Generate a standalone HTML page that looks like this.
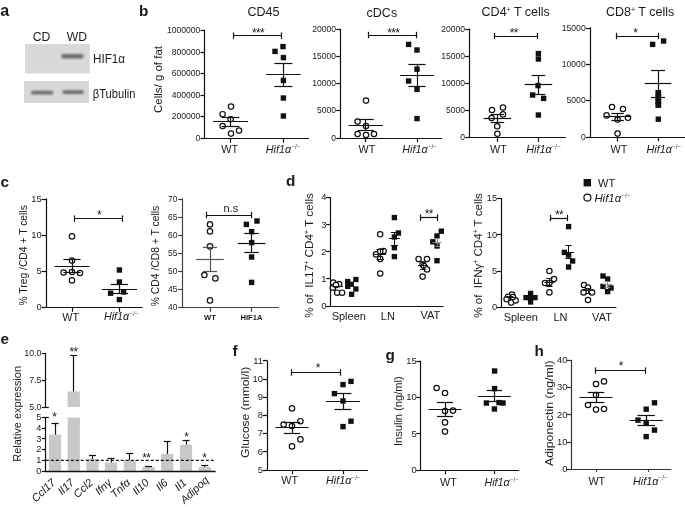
<!DOCTYPE html>
<html><head><meta charset="utf-8"><style>
html,body{margin:0;padding:0;background:#fff;width:685px;height:507px;overflow:hidden}
svg{display:block;will-change:transform}
text{font-family:"Liberation Sans",sans-serif}
</style></head><body>
<svg width="685" height="507" viewBox="0 0 685 507">
<defs><filter id="blur1" x="-50%" y="-200%" width="200%" height="500%"><feGaussianBlur stdDeviation="1.1"/></filter></defs>
<rect width="685" height="507" fill="#fff"/>
<text x="0.20" y="16.00" font-size="16" text-anchor="start" font-weight="bold" font-style="normal" fill="#1a1a1a" >a</text>
<text x="41.50" y="40.60" font-size="12.2" text-anchor="middle" font-weight="normal" font-style="normal" fill="#1a1a1a" >CD</text>
<text x="77.00" y="40.60" font-size="12.2" text-anchor="middle" font-weight="normal" font-style="normal" fill="#1a1a1a" >WD</text>
<rect x="25" y="44" width="64.8" height="29.5" fill="#d9d9d9"/>
<rect x="24" y="81" width="65" height="22" fill="#d8d8d8"/>
<rect x="61.2" y="54.0" width="22.4" height="4.4" rx="2" fill="#6c6c6c" filter="url(#blur1)"/>
<rect x="31" y="55" width="22" height="2" rx="1" fill="#d4d4d4" filter="url(#blur1)"/>
<rect x="31" y="90.8" width="22.4" height="3.8" rx="1.9" fill="#6c6c6c" filter="url(#blur1)"/>
<rect x="62.4" y="90.2" width="21.6" height="3.8" rx="1.9" fill="#6c6c6c" filter="url(#blur1)"/>
<text x="93.00" y="63.40" font-size="12.2" text-anchor="start" font-weight="normal" font-style="normal" fill="#1a1a1a" textLength="32" lengthAdjust="spacingAndGlyphs">HIF1α</text>
<text x="92.80" y="97.90" font-size="12.2" text-anchor="start" font-weight="normal" font-style="normal" fill="#1a1a1a" textLength="42.6" lengthAdjust="spacingAndGlyphs">βTubulin</text>
<text x="138.90" y="15.60" font-size="15.3" text-anchor="start" font-weight="bold" font-style="normal" fill="#1a1a1a" >b</text>
<text x="247.40" y="16.10" font-size="12.5" text-anchor="start" font-weight="normal" font-style="normal" fill="#1a1a1a" >CD45</text>
<line x1="204.50" y1="138.40" x2="204.50" y2="29.80" stroke="#111" stroke-width="1.2" />
<line x1="200.50" y1="138.50" x2="204.70" y2="138.50" stroke="#111" stroke-width="1.2" />
<text x="200.40" y="140.98" font-size="8.6" text-anchor="end" font-weight="normal" font-style="normal" fill="#1a1a1a" >0</text>
<line x1="200.50" y1="116.50" x2="204.70" y2="116.50" stroke="#111" stroke-width="1.2" />
<text x="200.40" y="119.38" font-size="8.6" text-anchor="end" font-weight="normal" font-style="normal" fill="#1a1a1a" >200000</text>
<line x1="200.50" y1="95.50" x2="204.70" y2="95.50" stroke="#111" stroke-width="1.2" />
<text x="200.40" y="97.78" font-size="8.6" text-anchor="end" font-weight="normal" font-style="normal" fill="#1a1a1a" >400000</text>
<line x1="200.50" y1="73.50" x2="204.70" y2="73.50" stroke="#111" stroke-width="1.2" />
<text x="200.40" y="76.18" font-size="8.6" text-anchor="end" font-weight="normal" font-style="normal" fill="#1a1a1a" >600000</text>
<line x1="200.50" y1="52.50" x2="204.70" y2="52.50" stroke="#111" stroke-width="1.2" />
<text x="200.40" y="54.58" font-size="8.6" text-anchor="end" font-weight="normal" font-style="normal" fill="#1a1a1a" >800000</text>
<line x1="200.50" y1="30.50" x2="204.70" y2="30.50" stroke="#111" stroke-width="1.2" />
<text x="200.40" y="32.98" font-size="8.6" text-anchor="end" font-weight="normal" font-style="normal" fill="#1a1a1a" >1000000</text>
<line x1="204.10" y1="138.50" x2="309.00" y2="138.50" stroke="#111" stroke-width="1.2" />
<line x1="230.50" y1="138.40" x2="230.50" y2="142.60" stroke="#111" stroke-width="1.2" />
<line x1="283.50" y1="138.40" x2="283.50" y2="142.60" stroke="#111" stroke-width="1.2" />
<text transform="translate(161.72,79.50) rotate(-90)" x="0" y="0" font-size="11.4" text-anchor="middle" textLength="67.0" lengthAdjust="spacingAndGlyphs" fill="#1a1a1a" >Cells/ g of fat</text>
<text x="229.60" y="153.00" font-size="10.8" text-anchor="middle" font-weight="normal" font-style="normal" fill="#1a1a1a" >WT</text>
<text x="265.80" y="153.00" font-size="10.8" text-anchor="start" font-weight="normal" font-style="italic" fill="#1a1a1a" >Hif1α<tspan font-size="6.5" dy="-4.2" font-style="normal" fill="#555">−/−</tspan></text>
<line x1="233.00" y1="35.50" x2="281.00" y2="35.50" stroke="#111" stroke-width="1.2" />
<line x1="233.50" y1="32.40" x2="233.50" y2="38.80" stroke="#111" stroke-width="1.2" />
<line x1="281.50" y1="32.40" x2="281.50" y2="38.80" stroke="#111" stroke-width="1.2" />
<text x="254.40" y="37.24" font-size="12" text-anchor="middle" fill="#1a1a1a">*</text>
<text x="258.40" y="37.24" font-size="12" text-anchor="middle" fill="#1a1a1a">*</text>
<text x="262.40" y="37.24" font-size="12" text-anchor="middle" fill="#1a1a1a">*</text>
<circle cx="231.00" cy="106.60" r="2.7" fill="#fff" stroke="#111" stroke-width="1.2"/>
<circle cx="222.60" cy="114.20" r="2.7" fill="#fff" stroke="#111" stroke-width="1.2"/>
<circle cx="230.60" cy="119.20" r="2.7" fill="#fff" stroke="#111" stroke-width="1.2"/>
<circle cx="222.60" cy="126.00" r="2.7" fill="#fff" stroke="#111" stroke-width="1.2"/>
<circle cx="239.00" cy="130.60" r="2.7" fill="#fff" stroke="#111" stroke-width="1.2"/>
<circle cx="231.00" cy="133.60" r="2.7" fill="#fff" stroke="#111" stroke-width="1.2"/>
<line x1="213.10" y1="121.50" x2="248.10" y2="121.50" stroke="#111" stroke-width="1.2" />
<line x1="230.50" y1="117.20" x2="230.50" y2="126.00" stroke="#111" stroke-width="1.2" />
<line x1="221.80" y1="117.50" x2="239.40" y2="117.50" stroke="#111" stroke-width="1.2" />
<line x1="221.80" y1="126.50" x2="239.40" y2="126.50" stroke="#111" stroke-width="1.2" />
<rect x="280.30" y="43.90" width="5.4" height="5.4" fill="#111"/>
<rect x="272.30" y="48.70" width="5.4" height="5.4" fill="#111"/>
<rect x="280.70" y="54.90" width="5.4" height="5.4" fill="#111"/>
<rect x="280.70" y="77.70" width="5.4" height="5.4" fill="#111"/>
<rect x="280.70" y="95.30" width="5.4" height="5.4" fill="#111"/>
<rect x="280.70" y="113.30" width="5.4" height="5.4" fill="#111"/>
<line x1="266.20" y1="74.50" x2="300.60" y2="74.50" stroke="#111" stroke-width="1.2" />
<line x1="283.50" y1="63.40" x2="283.50" y2="86.20" stroke="#111" stroke-width="1.2" />
<line x1="274.40" y1="63.50" x2="292.40" y2="63.50" stroke="#111" stroke-width="1.2" />
<line x1="274.40" y1="86.50" x2="292.40" y2="86.50" stroke="#111" stroke-width="1.2" />
<text x="366.60" y="17.40" font-size="12.5" text-anchor="start" font-weight="normal" font-style="normal" fill="#1a1a1a" >cDCs</text>
<line x1="340.50" y1="138.00" x2="340.50" y2="28.80" stroke="#111" stroke-width="1.2" />
<line x1="336.20" y1="138.50" x2="340.40" y2="138.50" stroke="#111" stroke-width="1.2" />
<text x="336.10" y="140.58" font-size="8.6" text-anchor="end" font-weight="normal" font-style="normal" fill="#1a1a1a" >0</text>
<line x1="336.20" y1="110.50" x2="340.40" y2="110.50" stroke="#111" stroke-width="1.2" />
<text x="336.10" y="113.43" font-size="8.6" text-anchor="end" font-weight="normal" font-style="normal" fill="#1a1a1a" >5000</text>
<line x1="336.20" y1="83.50" x2="340.40" y2="83.50" stroke="#111" stroke-width="1.2" />
<text x="336.10" y="86.28" font-size="8.6" text-anchor="end" font-weight="normal" font-style="normal" fill="#1a1a1a" >10000</text>
<line x1="336.20" y1="56.50" x2="340.40" y2="56.50" stroke="#111" stroke-width="1.2" />
<text x="336.10" y="59.13" font-size="8.6" text-anchor="end" font-weight="normal" font-style="normal" fill="#1a1a1a" >15000</text>
<line x1="336.20" y1="29.50" x2="340.40" y2="29.50" stroke="#111" stroke-width="1.2" />
<text x="336.10" y="31.98" font-size="8.6" text-anchor="end" font-weight="normal" font-style="normal" fill="#1a1a1a" >20000</text>
<line x1="339.80" y1="138.50" x2="442.00" y2="138.50" stroke="#111" stroke-width="1.2" />
<line x1="365.50" y1="138.00" x2="365.50" y2="142.20" stroke="#111" stroke-width="1.2" />
<line x1="417.50" y1="138.00" x2="417.50" y2="142.20" stroke="#111" stroke-width="1.2" />
<text x="367.00" y="153.00" font-size="10.8" text-anchor="middle" font-weight="normal" font-style="normal" fill="#1a1a1a" >WT</text>
<text x="402.30" y="153.00" font-size="10.8" text-anchor="start" font-weight="normal" font-style="italic" fill="#1a1a1a" >Hif1α<tspan font-size="6.5" dy="-4.2" font-style="normal" fill="#555">−/−</tspan></text>
<line x1="368.60" y1="35.50" x2="416.00" y2="35.50" stroke="#111" stroke-width="1.2" />
<line x1="368.50" y1="31.80" x2="368.50" y2="38.20" stroke="#111" stroke-width="1.2" />
<line x1="416.50" y1="31.80" x2="416.50" y2="38.20" stroke="#111" stroke-width="1.2" />
<text x="389.60" y="37.24" font-size="12" text-anchor="middle" fill="#1a1a1a">*</text>
<text x="393.60" y="37.24" font-size="12" text-anchor="middle" fill="#1a1a1a">*</text>
<text x="397.60" y="37.24" font-size="12" text-anchor="middle" fill="#1a1a1a">*</text>
<circle cx="366.00" cy="100.60" r="2.7" fill="#fff" stroke="#111" stroke-width="1.2"/>
<circle cx="357.60" cy="121.60" r="2.7" fill="#fff" stroke="#111" stroke-width="1.2"/>
<circle cx="366.00" cy="126.00" r="2.7" fill="#fff" stroke="#111" stroke-width="1.2"/>
<circle cx="357.60" cy="134.00" r="2.7" fill="#fff" stroke="#111" stroke-width="1.2"/>
<circle cx="366.00" cy="135.00" r="2.7" fill="#fff" stroke="#111" stroke-width="1.2"/>
<circle cx="374.00" cy="134.00" r="2.7" fill="#fff" stroke="#111" stroke-width="1.2"/>
<line x1="348.50" y1="125.50" x2="382.90" y2="125.50" stroke="#111" stroke-width="1.2" />
<line x1="365.50" y1="119.60" x2="365.50" y2="130.50" stroke="#111" stroke-width="1.2" />
<line x1="357.70" y1="119.50" x2="373.70" y2="119.50" stroke="#111" stroke-width="1.2" />
<line x1="357.70" y1="130.50" x2="373.70" y2="130.50" stroke="#111" stroke-width="1.2" />
<rect x="405.90" y="41.70" width="5.4" height="5.4" fill="#111"/>
<rect x="414.30" y="47.30" width="5.4" height="5.4" fill="#111"/>
<rect x="414.30" y="66.50" width="5.4" height="5.4" fill="#111"/>
<rect x="405.90" y="78.30" width="5.4" height="5.4" fill="#111"/>
<rect x="414.30" y="86.70" width="5.4" height="5.4" fill="#111"/>
<rect x="414.30" y="115.90" width="5.4" height="5.4" fill="#111"/>
<line x1="400.00" y1="75.50" x2="434.00" y2="75.50" stroke="#111" stroke-width="1.2" />
<line x1="417.50" y1="64.20" x2="417.50" y2="86.00" stroke="#111" stroke-width="1.2" />
<line x1="408.40" y1="64.50" x2="425.60" y2="64.50" stroke="#111" stroke-width="1.2" />
<line x1="408.40" y1="86.50" x2="425.60" y2="86.50" stroke="#111" stroke-width="1.2" />
<text x="481.60" y="16.00" font-size="12.5" text-anchor="start" font-weight="normal" font-style="normal" fill="#1a1a1a" >CD4<tspan font-size="7" dy="-4.5">+</tspan><tspan dy="4.5"> T cells</tspan></text>
<line x1="469.50" y1="137.60" x2="469.50" y2="28.60" stroke="#111" stroke-width="1.2" />
<line x1="465.20" y1="137.50" x2="469.40" y2="137.50" stroke="#111" stroke-width="1.2" />
<text x="465.10" y="140.18" font-size="8.6" text-anchor="end" font-weight="normal" font-style="normal" fill="#1a1a1a" >0</text>
<line x1="465.20" y1="110.50" x2="469.40" y2="110.50" stroke="#111" stroke-width="1.2" />
<text x="465.10" y="113.08" font-size="8.6" text-anchor="end" font-weight="normal" font-style="normal" fill="#1a1a1a" >5000</text>
<line x1="465.20" y1="83.50" x2="469.40" y2="83.50" stroke="#111" stroke-width="1.2" />
<text x="465.10" y="85.98" font-size="8.6" text-anchor="end" font-weight="normal" font-style="normal" fill="#1a1a1a" >10000</text>
<line x1="465.20" y1="56.50" x2="469.40" y2="56.50" stroke="#111" stroke-width="1.2" />
<text x="465.10" y="58.88" font-size="8.6" text-anchor="end" font-weight="normal" font-style="normal" fill="#1a1a1a" >15000</text>
<line x1="465.20" y1="29.50" x2="469.40" y2="29.50" stroke="#111" stroke-width="1.2" />
<text x="465.10" y="31.78" font-size="8.6" text-anchor="end" font-weight="normal" font-style="normal" fill="#1a1a1a" >20000</text>
<line x1="468.80" y1="137.50" x2="565.90" y2="137.50" stroke="#111" stroke-width="1.2" />
<line x1="497.50" y1="137.60" x2="497.50" y2="141.80" stroke="#111" stroke-width="1.2" />
<line x1="538.50" y1="137.60" x2="538.50" y2="141.80" stroke="#111" stroke-width="1.2" />
<text x="498.50" y="153.00" font-size="10.8" text-anchor="middle" font-weight="normal" font-style="normal" fill="#1a1a1a" >WT</text>
<text x="526.20" y="153.00" font-size="10.8" text-anchor="start" font-weight="normal" font-style="italic" fill="#1a1a1a" >Hif1α<tspan font-size="6.5" dy="-4.2" font-style="normal" fill="#555">−/−</tspan></text>
<line x1="494.40" y1="36.50" x2="537.00" y2="36.50" stroke="#111" stroke-width="1.2" />
<line x1="494.50" y1="32.80" x2="494.50" y2="39.20" stroke="#111" stroke-width="1.2" />
<line x1="537.50" y1="32.80" x2="537.50" y2="39.20" stroke="#111" stroke-width="1.2" />
<text x="512.00" y="37.24" font-size="12" text-anchor="middle" fill="#1a1a1a">*</text>
<text x="516.00" y="37.24" font-size="12" text-anchor="middle" fill="#1a1a1a">*</text>
<circle cx="492.00" cy="110.00" r="2.7" fill="#fff" stroke="#111" stroke-width="1.2"/>
<circle cx="503.00" cy="107.60" r="2.7" fill="#fff" stroke="#111" stroke-width="1.2"/>
<circle cx="491.60" cy="118.00" r="2.7" fill="#fff" stroke="#111" stroke-width="1.2"/>
<circle cx="503.00" cy="114.40" r="2.7" fill="#fff" stroke="#111" stroke-width="1.2"/>
<circle cx="497.20" cy="126.30" r="2.7" fill="#fff" stroke="#111" stroke-width="1.2"/>
<circle cx="497.40" cy="133.80" r="2.7" fill="#fff" stroke="#111" stroke-width="1.2"/>
<line x1="483.70" y1="118.50" x2="511.10" y2="118.50" stroke="#111" stroke-width="1.2" />
<line x1="497.50" y1="114.00" x2="497.50" y2="122.40" stroke="#111" stroke-width="1.2" />
<line x1="490.60" y1="114.50" x2="504.20" y2="114.50" stroke="#111" stroke-width="1.2" />
<line x1="490.60" y1="122.50" x2="504.20" y2="122.50" stroke="#111" stroke-width="1.2" />
<rect x="535.70" y="50.90" width="5.4" height="5.4" fill="#111"/>
<rect x="535.70" y="56.30" width="5.4" height="5.4" fill="#111"/>
<rect x="535.30" y="82.90" width="5.4" height="5.4" fill="#111"/>
<rect x="529.90" y="92.30" width="5.4" height="5.4" fill="#111"/>
<rect x="540.90" y="95.70" width="5.4" height="5.4" fill="#111"/>
<rect x="535.70" y="112.30" width="5.4" height="5.4" fill="#111"/>
<line x1="524.60" y1="84.50" x2="552.20" y2="84.50" stroke="#111" stroke-width="1.2" />
<line x1="538.50" y1="75.00" x2="538.50" y2="94.00" stroke="#111" stroke-width="1.2" />
<line x1="531.60" y1="75.50" x2="545.20" y2="75.50" stroke="#111" stroke-width="1.2" />
<line x1="531.60" y1="94.50" x2="545.20" y2="94.50" stroke="#111" stroke-width="1.2" />
<text x="606.00" y="16.00" font-size="12.5" text-anchor="start" font-weight="normal" font-style="normal" fill="#1a1a1a" >CD8<tspan font-size="7" dy="-4.5">+</tspan><tspan dy="4.5"> T cells</tspan></text>
<line x1="590.50" y1="137.00" x2="590.50" y2="27.41" stroke="#111" stroke-width="1.2" />
<line x1="585.80" y1="137.50" x2="590.00" y2="137.50" stroke="#111" stroke-width="1.2" />
<text x="585.70" y="139.58" font-size="8.6" text-anchor="end" font-weight="normal" font-style="normal" fill="#1a1a1a" >0</text>
<line x1="585.80" y1="100.50" x2="590.00" y2="100.50" stroke="#111" stroke-width="1.2" />
<text x="585.70" y="103.25" font-size="8.6" text-anchor="end" font-weight="normal" font-style="normal" fill="#1a1a1a" >5000</text>
<line x1="585.80" y1="64.50" x2="590.00" y2="64.50" stroke="#111" stroke-width="1.2" />
<text x="585.70" y="66.92" font-size="8.6" text-anchor="end" font-weight="normal" font-style="normal" fill="#1a1a1a" >10000</text>
<line x1="585.80" y1="28.50" x2="590.00" y2="28.50" stroke="#111" stroke-width="1.2" />
<text x="585.70" y="30.59" font-size="8.6" text-anchor="end" font-weight="normal" font-style="normal" fill="#1a1a1a" >15000</text>
<line x1="589.40" y1="137.50" x2="686.00" y2="137.50" stroke="#111" stroke-width="1.2" />
<line x1="617.50" y1="137.00" x2="617.50" y2="141.20" stroke="#111" stroke-width="1.2" />
<line x1="658.50" y1="137.00" x2="658.50" y2="141.20" stroke="#111" stroke-width="1.2" />
<text x="618.90" y="153.00" font-size="10.8" text-anchor="middle" font-weight="normal" font-style="normal" fill="#1a1a1a" >WT</text>
<text x="646.50" y="153.00" font-size="10.8" text-anchor="start" font-weight="normal" font-style="italic" fill="#1a1a1a" >Hif1α<tspan font-size="6.5" dy="-4.2" font-style="normal" fill="#555">−/−</tspan></text>
<line x1="616.00" y1="36.50" x2="658.00" y2="36.50" stroke="#111" stroke-width="1.2" />
<line x1="616.50" y1="32.80" x2="616.50" y2="39.20" stroke="#111" stroke-width="1.2" />
<line x1="658.50" y1="32.80" x2="658.50" y2="39.20" stroke="#111" stroke-width="1.2" />
<text x="635.70" y="37.24" font-size="12" text-anchor="middle" fill="#1a1a1a">*</text>
<circle cx="612.00" cy="107.00" r="2.7" fill="#fff" stroke="#111" stroke-width="1.2"/>
<circle cx="623.00" cy="109.00" r="2.7" fill="#fff" stroke="#111" stroke-width="1.2"/>
<circle cx="606.60" cy="115.40" r="2.7" fill="#fff" stroke="#111" stroke-width="1.2"/>
<circle cx="628.00" cy="117.80" r="2.7" fill="#fff" stroke="#111" stroke-width="1.2"/>
<circle cx="617.60" cy="119.60" r="2.7" fill="#fff" stroke="#111" stroke-width="1.2"/>
<circle cx="617.60" cy="133.60" r="2.7" fill="#fff" stroke="#111" stroke-width="1.2"/>
<line x1="604.40" y1="116.50" x2="630.80" y2="116.50" stroke="#111" stroke-width="1.2" />
<line x1="617.50" y1="113.20" x2="617.50" y2="120.60" stroke="#111" stroke-width="1.2" />
<line x1="611.40" y1="113.50" x2="623.80" y2="113.50" stroke="#111" stroke-width="1.2" />
<line x1="611.40" y1="120.50" x2="623.80" y2="120.50" stroke="#111" stroke-width="1.2" />
<rect x="649.90" y="41.70" width="5.4" height="5.4" fill="#111"/>
<rect x="660.90" y="38.30" width="5.4" height="5.4" fill="#111"/>
<rect x="655.60" y="116.50" width="5.4" height="5.4" fill="#111"/>
<rect x="655.40" y="89.90" width="5.8" height="5.8" fill="#111"/>
<rect x="655.40" y="94.60" width="5.8" height="5.8" fill="#111"/>
<rect x="655.40" y="98.60" width="5.8" height="5.8" fill="#111"/>
<rect x="655.40" y="102.10" width="5.8" height="5.8" fill="#111"/>
<line x1="644.70" y1="83.50" x2="671.30" y2="83.50" stroke="#111" stroke-width="1.2" />
<line x1="658.50" y1="70.00" x2="658.50" y2="97.00" stroke="#111" stroke-width="1.2" />
<line x1="651.00" y1="70.50" x2="665.00" y2="70.50" stroke="#111" stroke-width="1.2" />
<line x1="651.00" y1="97.50" x2="665.00" y2="97.50" stroke="#111" stroke-width="1.2" />
<text x="0.60" y="186.50" font-size="15.3" text-anchor="start" font-weight="bold" font-style="normal" fill="#1a1a1a" >c</text>
<line x1="46.50" y1="307.60" x2="46.50" y2="198.40" stroke="#111" stroke-width="1.2" />
<line x1="41.80" y1="307.50" x2="46.00" y2="307.50" stroke="#111" stroke-width="1.2" />
<text x="41.70" y="310.42" font-size="9.4" text-anchor="end" font-weight="normal" font-style="normal" fill="#1a1a1a" >0</text>
<line x1="41.80" y1="271.50" x2="46.00" y2="271.50" stroke="#111" stroke-width="1.2" />
<text x="41.70" y="274.22" font-size="9.4" text-anchor="end" font-weight="normal" font-style="normal" fill="#1a1a1a" >5</text>
<line x1="41.80" y1="235.50" x2="46.00" y2="235.50" stroke="#111" stroke-width="1.2" />
<text x="41.70" y="238.02" font-size="9.4" text-anchor="end" font-weight="normal" font-style="normal" fill="#1a1a1a" >10</text>
<line x1="41.80" y1="199.50" x2="46.00" y2="199.50" stroke="#111" stroke-width="1.2" />
<text x="41.70" y="201.82" font-size="9.4" text-anchor="end" font-weight="normal" font-style="normal" fill="#1a1a1a" >15</text>
<line x1="45.40" y1="307.50" x2="142.60" y2="307.50" stroke="#111" stroke-width="1.2" />
<line x1="72.50" y1="307.60" x2="72.50" y2="311.80" stroke="#111" stroke-width="1.2" />
<line x1="119.50" y1="307.60" x2="119.50" y2="311.80" stroke="#111" stroke-width="1.2" />
<text transform="translate(26.68,255.40) rotate(-90)" x="0" y="0" font-size="11.2" text-anchor="middle" textLength="100.4" lengthAdjust="spacingAndGlyphs" fill="#1a1a1a" >% Treg /CD4 + T cells</text>
<text x="70.60" y="321.00" font-size="10.8" text-anchor="middle" font-weight="normal" font-style="normal" fill="#1a1a1a" >WT</text>
<text x="103.90" y="320.40" font-size="10.8" text-anchor="start" font-weight="normal" font-style="italic" fill="#1a1a1a" >Hif1α<tspan font-size="6.5" dy="-4.2" font-style="normal" fill="#555">−/−</tspan></text>
<line x1="74.40" y1="218.50" x2="122.40" y2="218.50" stroke="#111" stroke-width="1.2" />
<line x1="74.50" y1="215.40" x2="74.50" y2="221.80" stroke="#111" stroke-width="1.2" />
<line x1="122.50" y1="215.40" x2="122.50" y2="221.80" stroke="#111" stroke-width="1.2" />
<text x="99.40" y="218.74" font-size="12" text-anchor="middle" fill="#1a1a1a">*</text>
<circle cx="72.00" cy="236.40" r="2.7" fill="#fff" stroke="#111" stroke-width="1.2"/>
<circle cx="72.00" cy="260.60" r="2.7" fill="#fff" stroke="#111" stroke-width="1.2"/>
<circle cx="63.60" cy="272.60" r="2.7" fill="#fff" stroke="#111" stroke-width="1.2"/>
<circle cx="72.00" cy="272.00" r="2.7" fill="#fff" stroke="#111" stroke-width="1.2"/>
<circle cx="80.00" cy="273.00" r="2.7" fill="#fff" stroke="#111" stroke-width="1.2"/>
<circle cx="72.00" cy="280.40" r="2.7" fill="#fff" stroke="#111" stroke-width="1.2"/>
<line x1="54.60" y1="266.50" x2="89.40" y2="266.50" stroke="#111" stroke-width="1.2" />
<line x1="72.50" y1="259.40" x2="72.50" y2="272.40" stroke="#111" stroke-width="1.2" />
<line x1="63.40" y1="259.50" x2="80.60" y2="259.50" stroke="#111" stroke-width="1.2" />
<line x1="63.40" y1="272.50" x2="80.60" y2="272.50" stroke="#111" stroke-width="1.2" />
<rect x="116.70" y="267.30" width="5.4" height="5.4" fill="#111"/>
<rect x="116.70" y="279.30" width="5.4" height="5.4" fill="#111"/>
<rect x="107.90" y="290.50" width="5.4" height="5.4" fill="#111"/>
<rect x="120.90" y="289.30" width="5.4" height="5.4" fill="#111"/>
<rect x="116.70" y="296.90" width="5.4" height="5.4" fill="#111"/>
<line x1="101.80" y1="289.50" x2="137.00" y2="289.50" stroke="#111" stroke-width="1.2" />
<line x1="119.50" y1="284.00" x2="119.50" y2="293.00" stroke="#111" stroke-width="1.2" />
<line x1="110.70" y1="284.50" x2="128.10" y2="284.50" stroke="#111" stroke-width="1.2" />
<line x1="110.70" y1="293.50" x2="128.10" y2="293.50" stroke="#111" stroke-width="1.2" />
<line x1="182.50" y1="307.60" x2="182.50" y2="198.40" stroke="#444" stroke-width="1.2" />
<line x1="178.10" y1="307.50" x2="182.30" y2="307.50" stroke="#444" stroke-width="1.2" />
<text x="177.30" y="310.12" font-size="8.4" text-anchor="end" font-weight="normal" font-style="normal" fill="#1a1a1a" >40</text>
<line x1="178.10" y1="289.50" x2="182.30" y2="289.50" stroke="#444" stroke-width="1.2" />
<text x="177.30" y="292.02" font-size="8.4" text-anchor="end" font-weight="normal" font-style="normal" fill="#1a1a1a" >45</text>
<line x1="178.10" y1="271.50" x2="182.30" y2="271.50" stroke="#444" stroke-width="1.2" />
<text x="177.30" y="273.92" font-size="8.4" text-anchor="end" font-weight="normal" font-style="normal" fill="#1a1a1a" >50</text>
<line x1="178.10" y1="253.50" x2="182.30" y2="253.50" stroke="#444" stroke-width="1.2" />
<text x="177.30" y="255.82" font-size="8.4" text-anchor="end" font-weight="normal" font-style="normal" fill="#1a1a1a" >55</text>
<line x1="178.10" y1="235.50" x2="182.30" y2="235.50" stroke="#444" stroke-width="1.2" />
<text x="177.30" y="237.72" font-size="8.4" text-anchor="end" font-weight="normal" font-style="normal" fill="#1a1a1a" >60</text>
<line x1="178.10" y1="217.50" x2="182.30" y2="217.50" stroke="#444" stroke-width="1.2" />
<text x="177.30" y="219.62" font-size="8.4" text-anchor="end" font-weight="normal" font-style="normal" fill="#1a1a1a" >65</text>
<line x1="178.10" y1="199.50" x2="182.30" y2="199.50" stroke="#444" stroke-width="1.2" />
<text x="177.30" y="201.52" font-size="8.4" text-anchor="end" font-weight="normal" font-style="normal" fill="#1a1a1a" >70</text>
<line x1="181.70" y1="307.50" x2="279.00" y2="307.50" stroke="#444" stroke-width="1.2" />
<line x1="210.50" y1="307.60" x2="210.50" y2="311.80" stroke="#444" stroke-width="1.2" />
<line x1="251.50" y1="307.60" x2="251.50" y2="311.80" stroke="#444" stroke-width="1.2" />
<text transform="translate(158.98,256.00) rotate(-90)" x="0" y="0" font-size="11.2" text-anchor="middle" textLength="100.4" lengthAdjust="spacingAndGlyphs" fill="#1a1a1a" >% CD4 /CD8 + T cells</text>
<text x="210.00" y="319.60" font-size="7.6" text-anchor="middle" font-weight="bold" font-style="normal" fill="#1a1a1a" >WT</text>
<text x="251.40" y="319.60" font-size="7.6" text-anchor="middle" font-weight="bold" font-style="normal" fill="#1a1a1a" >HIF1A</text>
<line x1="206.60" y1="215.50" x2="251.40" y2="215.50" stroke="#111" stroke-width="1.2" />
<line x1="206.50" y1="211.80" x2="206.50" y2="218.20" stroke="#111" stroke-width="1.2" />
<line x1="251.50" y1="211.80" x2="251.50" y2="218.20" stroke="#111" stroke-width="1.2" />
<text x="230.80" y="211.60" font-size="11" text-anchor="middle" font-weight="normal" font-style="normal" fill="#1a1a1a" >n.s</text>
<circle cx="210.00" cy="224.40" r="2.7" fill="#fff" stroke="#111" stroke-width="1.2"/>
<circle cx="210.00" cy="231.40" r="2.7" fill="#fff" stroke="#111" stroke-width="1.2"/>
<circle cx="210.00" cy="246.40" r="2.7" fill="#fff" stroke="#111" stroke-width="1.2"/>
<circle cx="204.40" cy="275.00" r="2.7" fill="#fff" stroke="#111" stroke-width="1.2"/>
<circle cx="215.40" cy="278.40" r="2.7" fill="#fff" stroke="#111" stroke-width="1.2"/>
<circle cx="210.00" cy="300.40" r="2.7" fill="#fff" stroke="#111" stroke-width="1.2"/>
<line x1="196.20" y1="259.50" x2="223.80" y2="259.50" stroke="#555" stroke-width="1.2" />
<line x1="210.50" y1="247.40" x2="210.50" y2="271.60" stroke="#555" stroke-width="1.2" />
<line x1="203.00" y1="247.50" x2="217.00" y2="247.50" stroke="#555" stroke-width="1.2" />
<line x1="203.00" y1="271.50" x2="217.00" y2="271.50" stroke="#555" stroke-width="1.2" />
<rect x="243.70" y="221.70" width="5.4" height="5.4" fill="#111"/>
<rect x="254.30" y="218.30" width="5.4" height="5.4" fill="#111"/>
<rect x="248.90" y="228.90" width="5.4" height="5.4" fill="#111"/>
<rect x="248.90" y="239.90" width="5.4" height="5.4" fill="#111"/>
<rect x="248.90" y="254.30" width="5.4" height="5.4" fill="#111"/>
<rect x="248.90" y="279.70" width="5.4" height="5.4" fill="#111"/>
<line x1="237.80" y1="243.50" x2="265.40" y2="243.50" stroke="#111" stroke-width="1.2" />
<line x1="251.50" y1="233.40" x2="251.50" y2="252.60" stroke="#111" stroke-width="1.2" />
<line x1="244.40" y1="233.50" x2="258.80" y2="233.50" stroke="#111" stroke-width="1.2" />
<line x1="244.40" y1="252.50" x2="258.80" y2="252.50" stroke="#111" stroke-width="1.2" />
<text x="286.00" y="186.00" font-size="15.3" text-anchor="start" font-weight="bold" font-style="normal" fill="#1a1a1a" >d</text>
<line x1="330.50" y1="306.00" x2="330.50" y2="197.00" stroke="#111" stroke-width="1.2" />
<line x1="326.20" y1="306.50" x2="330.40" y2="306.50" stroke="#111" stroke-width="1.2" />
<text x="326.40" y="308.82" font-size="9.4" text-anchor="end" font-weight="normal" font-style="normal" fill="#1a1a1a" >0</text>
<line x1="326.20" y1="278.50" x2="330.40" y2="278.50" stroke="#111" stroke-width="1.2" />
<text x="326.40" y="281.72" font-size="9.4" text-anchor="end" font-weight="normal" font-style="normal" fill="#1a1a1a" >1</text>
<line x1="326.20" y1="251.50" x2="330.40" y2="251.50" stroke="#111" stroke-width="1.2" />
<text x="326.40" y="254.62" font-size="9.4" text-anchor="end" font-weight="normal" font-style="normal" fill="#1a1a1a" >2</text>
<line x1="326.20" y1="224.50" x2="330.40" y2="224.50" stroke="#111" stroke-width="1.2" />
<text x="326.40" y="227.52" font-size="9.4" text-anchor="end" font-weight="normal" font-style="normal" fill="#1a1a1a" >3</text>
<line x1="326.20" y1="197.50" x2="330.40" y2="197.50" stroke="#111" stroke-width="1.2" />
<text x="326.40" y="200.42" font-size="9.4" text-anchor="end" font-weight="normal" font-style="normal" fill="#1a1a1a" >4</text>
<line x1="329.80" y1="306.50" x2="443.60" y2="306.50" stroke="#111" stroke-width="1.2" />
<text transform="translate(312.88,255.45) rotate(-90)" x="0" y="0" font-size="11.2" text-anchor="middle" textLength="124.7" lengthAdjust="spacingAndGlyphs" fill="#1a1a1a" xml:space="preserve">% of  IL17<tspan font-size="6.5" dy="-4">+</tspan><tspan dy="4"> CD4</tspan><tspan font-size="6.5" dy="-4">+</tspan><tspan dy="4"> T cells</tspan></text>
<text x="348.80" y="319.60" font-size="11" text-anchor="middle" font-weight="normal" font-style="normal" fill="#1a1a1a" >Spleen</text>
<text x="387.80" y="319.60" font-size="11" text-anchor="middle" font-weight="normal" font-style="normal" fill="#1a1a1a" >LN</text>
<text x="430.30" y="319.40" font-size="11" text-anchor="middle" font-weight="normal" font-style="normal" fill="#1a1a1a" >VAT</text>
<circle cx="333.20" cy="282.50" r="2.7" fill="#fff" stroke="#111" stroke-width="1.2"/>
<circle cx="339.10" cy="284.10" r="2.7" fill="#fff" stroke="#111" stroke-width="1.2"/>
<circle cx="332.90" cy="287.70" r="2.7" fill="#fff" stroke="#111" stroke-width="1.2"/>
<circle cx="337.20" cy="292.70" r="2.7" fill="#fff" stroke="#111" stroke-width="1.2"/>
<circle cx="342.10" cy="292.70" r="2.7" fill="#fff" stroke="#111" stroke-width="1.2"/>
<circle cx="336.00" cy="285.00" r="2.7" fill="#fff" stroke="#111" stroke-width="1.2"/>
<line x1="332.00" y1="286.50" x2="343.00" y2="286.50" stroke="#111" stroke-width="0.9" />
<rect x="345.05" y="278.85" width="5.3" height="5.3" fill="#111"/>
<rect x="353.25" y="276.85" width="5.3" height="5.3" fill="#111"/>
<rect x="345.05" y="283.75" width="5.3" height="5.3" fill="#111"/>
<rect x="348.65" y="281.65" width="5.3" height="5.3" fill="#111"/>
<rect x="353.25" y="286.35" width="5.3" height="5.3" fill="#111"/>
<rect x="348.95" y="291.65" width="5.3" height="5.3" fill="#111"/>
<circle cx="380.20" cy="234.30" r="2.7" fill="#fff" stroke="#111" stroke-width="1.2"/>
<circle cx="376.00" cy="254.40" r="2.7" fill="#fff" stroke="#111" stroke-width="1.2"/>
<circle cx="383.60" cy="251.00" r="2.7" fill="#fff" stroke="#111" stroke-width="1.2"/>
<circle cx="380.20" cy="258.90" r="2.7" fill="#fff" stroke="#111" stroke-width="1.2"/>
<circle cx="380.20" cy="273.50" r="2.7" fill="#fff" stroke="#111" stroke-width="1.2"/>
<circle cx="380.20" cy="251.50" r="2.7" fill="#fff" stroke="#111" stroke-width="1.2"/>
<line x1="374.20" y1="254.50" x2="386.20" y2="254.50" stroke="#111" stroke-width="1" />
<line x1="380.50" y1="249.00" x2="380.50" y2="259.00" stroke="#111" stroke-width="1" />
<line x1="376.40" y1="249.50" x2="384.00" y2="249.50" stroke="#111" stroke-width="1" />
<line x1="376.40" y1="259.50" x2="384.00" y2="259.50" stroke="#111" stroke-width="1" />
<rect x="391.70" y="214.90" width="5.4" height="5.4" fill="#111"/>
<rect x="395.70" y="230.30" width="5.4" height="5.4" fill="#111"/>
<rect x="391.70" y="234.30" width="5.4" height="5.4" fill="#111"/>
<rect x="391.70" y="245.00" width="5.4" height="5.4" fill="#111"/>
<rect x="391.70" y="253.90" width="5.4" height="5.4" fill="#111"/>
<line x1="388.90" y1="238.50" x2="399.90" y2="238.50" stroke="#111" stroke-width="1" />
<line x1="394.50" y1="232.00" x2="394.50" y2="245.00" stroke="#111" stroke-width="1" />
<line x1="390.90" y1="232.50" x2="397.90" y2="232.50" stroke="#111" stroke-width="1" />
<line x1="390.90" y1="245.50" x2="397.90" y2="245.50" stroke="#111" stroke-width="1" />
<circle cx="418.60" cy="259.00" r="2.7" fill="#fff" stroke="#111" stroke-width="1.2"/>
<circle cx="427.00" cy="259.00" r="2.7" fill="#fff" stroke="#111" stroke-width="1.2"/>
<circle cx="422.60" cy="264.40" r="2.7" fill="#fff" stroke="#111" stroke-width="1.2"/>
<circle cx="424.00" cy="266.00" r="2.7" fill="#fff" stroke="#111" stroke-width="1.2"/>
<circle cx="427.00" cy="269.40" r="2.7" fill="#fff" stroke="#111" stroke-width="1.2"/>
<circle cx="422.60" cy="276.60" r="2.7" fill="#fff" stroke="#111" stroke-width="1.2"/>
<line x1="418.00" y1="265.50" x2="428.00" y2="265.50" stroke="#111" stroke-width="0.9" />
<line x1="423.50" y1="262.00" x2="423.50" y2="269.00" stroke="#111" stroke-width="0.9" />
<line x1="420.00" y1="262.50" x2="426.00" y2="262.50" stroke="#111" stroke-width="0.9" />
<line x1="420.00" y1="269.50" x2="426.00" y2="269.50" stroke="#111" stroke-width="0.9" />
<rect x="438.60" y="228.50" width="5.4" height="5.4" fill="#111"/>
<rect x="434.30" y="233.30" width="5.4" height="5.4" fill="#111"/>
<rect x="430.10" y="239.10" width="5.4" height="5.4" fill="#111"/>
<rect x="434.30" y="243.30" width="5.4" height="5.4" fill="#111"/>
<rect x="434.30" y="258.00" width="5.4" height="5.4" fill="#111"/>
<line x1="432.50" y1="242.50" x2="441.50" y2="242.50" stroke="#888" stroke-width="0.9" />
<line x1="437.50" y1="238.00" x2="437.50" y2="246.00" stroke="#888" stroke-width="0.9" />
<line x1="434.00" y1="238.50" x2="440.00" y2="238.50" stroke="#888" stroke-width="0.9" />
<line x1="434.00" y1="246.50" x2="440.00" y2="246.50" stroke="#888" stroke-width="0.9" />
<line x1="420.50" y1="217.50" x2="437.50" y2="217.50" stroke="#111" stroke-width="1.2" />
<line x1="420.50" y1="214.40" x2="420.50" y2="220.80" stroke="#111" stroke-width="1.2" />
<line x1="437.50" y1="214.40" x2="437.50" y2="220.80" stroke="#111" stroke-width="1.2" />
<text x="427.00" y="217.94" font-size="12" text-anchor="middle" fill="#1a1a1a">*</text>
<text x="431.00" y="217.94" font-size="12" text-anchor="middle" fill="#1a1a1a">*</text>
<line x1="501.50" y1="307.20" x2="501.50" y2="198.00" stroke="#111" stroke-width="1.2" />
<line x1="497.00" y1="307.50" x2="501.20" y2="307.50" stroke="#111" stroke-width="1.2" />
<text x="497.20" y="310.02" font-size="9.4" text-anchor="end" font-weight="normal" font-style="normal" fill="#1a1a1a" >0</text>
<line x1="497.00" y1="271.50" x2="501.20" y2="271.50" stroke="#111" stroke-width="1.2" />
<text x="497.20" y="273.82" font-size="9.4" text-anchor="end" font-weight="normal" font-style="normal" fill="#1a1a1a" >5</text>
<line x1="497.00" y1="234.50" x2="501.20" y2="234.50" stroke="#111" stroke-width="1.2" />
<text x="497.20" y="237.62" font-size="9.4" text-anchor="end" font-weight="normal" font-style="normal" fill="#1a1a1a" >10</text>
<line x1="497.00" y1="198.50" x2="501.20" y2="198.50" stroke="#111" stroke-width="1.2" />
<text x="497.20" y="201.42" font-size="9.4" text-anchor="end" font-weight="normal" font-style="normal" fill="#1a1a1a" >15</text>
<line x1="500.60" y1="307.50" x2="616.40" y2="307.50" stroke="#111" stroke-width="1.2" />
<text transform="translate(482.28,255.45) rotate(-90)" x="0" y="0" font-size="11.2" text-anchor="middle" textLength="124.7" lengthAdjust="spacingAndGlyphs" fill="#1a1a1a" xml:space="preserve">% of  IFNγ<tspan font-size="6.5" dy="-4">+</tspan><tspan dy="4"> CD4</tspan><tspan font-size="6.5" dy="-4">+</tspan><tspan dy="4"> T cells</tspan></text>
<text x="520.80" y="321.40" font-size="11" text-anchor="middle" font-weight="normal" font-style="normal" fill="#1a1a1a" >Spleen</text>
<text x="560.50" y="321.40" font-size="11" text-anchor="middle" font-weight="normal" font-style="normal" fill="#1a1a1a" >LN</text>
<text x="602.00" y="321.40" font-size="11" text-anchor="middle" font-weight="normal" font-style="normal" fill="#1a1a1a" >VAT</text>
<circle cx="512.00" cy="294.60" r="2.7" fill="#fff" stroke="#111" stroke-width="1.2"/>
<circle cx="508.00" cy="296.80" r="2.7" fill="#fff" stroke="#111" stroke-width="1.2"/>
<circle cx="506.60" cy="299.30" r="2.7" fill="#fff" stroke="#111" stroke-width="1.2"/>
<circle cx="511.20" cy="302.60" r="2.7" fill="#fff" stroke="#111" stroke-width="1.2"/>
<circle cx="515.60" cy="300.40" r="2.7" fill="#fff" stroke="#111" stroke-width="1.2"/>
<circle cx="513.00" cy="297.00" r="2.7" fill="#fff" stroke="#111" stroke-width="1.2"/>
<line x1="506.30" y1="297.50" x2="515.30" y2="297.50" stroke="#111" stroke-width="1.0" />
<line x1="510.50" y1="296.20" x2="510.50" y2="299.40" stroke="#111" stroke-width="1.0" />
<line x1="508.30" y1="296.50" x2="513.30" y2="296.50" stroke="#111" stroke-width="1.0" />
<line x1="508.30" y1="299.50" x2="513.30" y2="299.50" stroke="#111" stroke-width="1.0" />
<rect x="527.95" y="290.75" width="5.3" height="5.3" fill="#111"/>
<rect x="523.35" y="294.95" width="5.3" height="5.3" fill="#111"/>
<rect x="532.35" y="294.95" width="5.3" height="5.3" fill="#111"/>
<rect x="527.95" y="299.35" width="5.3" height="5.3" fill="#111"/>
<rect x="527.95" y="294.95" width="5.3" height="5.3" fill="#111"/>
<circle cx="549.40" cy="271.00" r="2.7" fill="#fff" stroke="#111" stroke-width="1.2"/>
<circle cx="545.00" cy="283.00" r="2.7" fill="#fff" stroke="#111" stroke-width="1.2"/>
<circle cx="554.00" cy="279.00" r="2.7" fill="#fff" stroke="#111" stroke-width="1.2"/>
<circle cx="549.40" cy="283.00" r="2.7" fill="#fff" stroke="#111" stroke-width="1.2"/>
<circle cx="549.40" cy="292.40" r="2.7" fill="#fff" stroke="#111" stroke-width="1.2"/>
<line x1="544.40" y1="282.50" x2="554.40" y2="282.50" stroke="#111" stroke-width="1" />
<line x1="549.50" y1="278.00" x2="549.50" y2="286.00" stroke="#111" stroke-width="1" />
<line x1="546.20" y1="278.50" x2="552.60" y2="278.50" stroke="#111" stroke-width="1" />
<line x1="546.20" y1="286.50" x2="552.60" y2="286.50" stroke="#111" stroke-width="1" />
<rect x="561.70" y="249.70" width="5.4" height="5.4" fill="#111"/>
<rect x="565.90" y="252.30" width="5.4" height="5.4" fill="#111"/>
<rect x="569.90" y="258.30" width="5.4" height="5.4" fill="#111"/>
<rect x="565.90" y="264.30" width="5.4" height="5.4" fill="#111"/>
<rect x="565.90" y="223.90" width="5.4" height="5.4" fill="#111"/>
<line x1="563.10" y1="252.50" x2="574.10" y2="252.50" stroke="#111" stroke-width="1" />
<line x1="568.50" y1="245.60" x2="568.50" y2="258.50" stroke="#111" stroke-width="1" />
<line x1="565.40" y1="245.50" x2="571.80" y2="245.50" stroke="#111" stroke-width="1" />
<line x1="565.40" y1="258.50" x2="571.80" y2="258.50" stroke="#111" stroke-width="1" />
<line x1="550.60" y1="218.50" x2="567.60" y2="218.50" stroke="#111" stroke-width="1.2" />
<line x1="550.50" y1="214.80" x2="550.50" y2="221.20" stroke="#111" stroke-width="1.2" />
<line x1="567.50" y1="214.80" x2="567.50" y2="221.20" stroke="#111" stroke-width="1.2" />
<text x="557.30" y="218.74" font-size="12" text-anchor="middle" fill="#1a1a1a">*</text>
<text x="561.30" y="218.74" font-size="12" text-anchor="middle" fill="#1a1a1a">*</text>
<circle cx="584.00" cy="285.00" r="2.7" fill="#fff" stroke="#111" stroke-width="1.2"/>
<circle cx="588.00" cy="287.60" r="2.7" fill="#fff" stroke="#111" stroke-width="1.2"/>
<circle cx="583.60" cy="292.40" r="2.7" fill="#fff" stroke="#111" stroke-width="1.2"/>
<circle cx="592.00" cy="292.40" r="2.7" fill="#fff" stroke="#111" stroke-width="1.2"/>
<circle cx="588.00" cy="300.00" r="2.7" fill="#fff" stroke="#111" stroke-width="1.2"/>
<line x1="583.00" y1="290.50" x2="593.00" y2="290.50" stroke="#111" stroke-width="0.9" />
<line x1="588.50" y1="288.00" x2="588.50" y2="293.00" stroke="#111" stroke-width="0.9" />
<line x1="585.00" y1="288.50" x2="591.00" y2="288.50" stroke="#111" stroke-width="0.9" />
<line x1="585.00" y1="293.50" x2="591.00" y2="293.50" stroke="#111" stroke-width="0.9" />
<rect x="600.30" y="273.30" width="5.4" height="5.4" fill="#111"/>
<rect x="604.90" y="276.30" width="5.4" height="5.4" fill="#111"/>
<rect x="600.30" y="283.70" width="5.4" height="5.4" fill="#111"/>
<rect x="608.30" y="285.30" width="5.4" height="5.4" fill="#111"/>
<rect x="604.90" y="288.90" width="5.4" height="5.4" fill="#111"/>
<line x1="602.60" y1="284.50" x2="612.60" y2="284.50" stroke="#888" stroke-width="0.9" />
<line x1="607.50" y1="281.00" x2="607.50" y2="287.50" stroke="#888" stroke-width="0.9" />
<line x1="604.60" y1="281.50" x2="610.60" y2="281.50" stroke="#888" stroke-width="0.9" />
<line x1="604.60" y1="287.50" x2="610.60" y2="287.50" stroke="#888" stroke-width="0.9" />
<rect x="583.6" y="179" width="7.4" height="7.4" fill="#111"/>
<text x="598.00" y="187.20" font-size="11" text-anchor="start" font-weight="normal" font-style="normal" fill="#1a1a1a" >WT</text>
<circle cx="587.40" cy="197.60" r="3.5" fill="#fff" stroke="#111" stroke-width="1.2"/>
<text x="594.40" y="202.00" font-size="11.4" text-anchor="start" font-weight="normal" font-style="italic" fill="#1a1a1a" >Hif1α<tspan font-size="6.5" dy="-4.2" font-style="normal" fill="#555">−/−</tspan></text>
<text x="0.60" y="343.50" font-size="15.3" text-anchor="start" font-weight="bold" font-style="normal" fill="#1a1a1a" >e</text>
<line x1="45.50" y1="407.20" x2="45.50" y2="353.00" stroke="#111" stroke-width="1.2" />
<line x1="41.80" y1="353.50" x2="45.80" y2="353.50" stroke="#111" stroke-width="1.2" />
<text x="41.40" y="356.30" font-size="8.8" text-anchor="end" font-weight="normal" font-style="normal" fill="#1a1a1a" >10.0</text>
<line x1="41.80" y1="380.50" x2="45.80" y2="380.50" stroke="#111" stroke-width="1.2" />
<text x="41.40" y="383.10" font-size="8.8" text-anchor="end" font-weight="normal" font-style="normal" fill="#1a1a1a" >7.5</text>
<line x1="41.80" y1="407.50" x2="45.80" y2="407.50" stroke="#111" stroke-width="1.2" />
<text x="41.40" y="409.90" font-size="8.8" text-anchor="end" font-weight="normal" font-style="normal" fill="#1a1a1a" >5.0</text>
<line x1="45.80" y1="407.50" x2="48.80" y2="407.50" stroke="#111" stroke-width="1.2" />
<line x1="45.50" y1="471.00" x2="45.50" y2="417.40" stroke="#111" stroke-width="1.2" />
<line x1="41.80" y1="471.50" x2="45.80" y2="471.50" stroke="#111" stroke-width="1.2" />
<text x="41.40" y="473.80" font-size="9.2" text-anchor="end" font-weight="normal" font-style="normal" fill="#1a1a1a" >0</text>
<line x1="41.80" y1="460.50" x2="45.80" y2="460.50" stroke="#111" stroke-width="1.2" />
<text x="41.40" y="463.10" font-size="9.2" text-anchor="end" font-weight="normal" font-style="normal" fill="#1a1a1a" >1</text>
<line x1="41.80" y1="449.50" x2="45.80" y2="449.50" stroke="#111" stroke-width="1.2" />
<text x="41.40" y="452.40" font-size="9.2" text-anchor="end" font-weight="normal" font-style="normal" fill="#1a1a1a" >2</text>
<line x1="41.80" y1="438.50" x2="45.80" y2="438.50" stroke="#111" stroke-width="1.2" />
<text x="41.40" y="441.70" font-size="9.2" text-anchor="end" font-weight="normal" font-style="normal" fill="#1a1a1a" >3</text>
<line x1="41.80" y1="428.50" x2="45.80" y2="428.50" stroke="#111" stroke-width="1.2" />
<text x="41.40" y="431.00" font-size="9.2" text-anchor="end" font-weight="normal" font-style="normal" fill="#1a1a1a" >4</text>
<line x1="41.80" y1="417.50" x2="45.80" y2="417.50" stroke="#111" stroke-width="1.2" />
<text x="41.40" y="420.30" font-size="9.2" text-anchor="end" font-weight="normal" font-style="normal" fill="#1a1a1a" >5</text>
<line x1="45.80" y1="417.50" x2="48.80" y2="417.50" stroke="#111" stroke-width="1.2" />
<text transform="translate(21.26,413.85) rotate(-90)" x="0" y="0" font-size="10.9" text-anchor="middle" textLength="95.7" lengthAdjust="spacingAndGlyphs" fill="#1a1a1a" >Relative expression</text>
<rect x="48.90" y="434.60" width="12.2" height="36.40" fill="#c8c8c8"/>
<rect x="86.40" y="459.00" width="12.2" height="12.00" fill="#c8c8c8"/>
<rect x="104.90" y="462.50" width="12.2" height="8.50" fill="#c8c8c8"/>
<rect x="123.70" y="460.00" width="12.2" height="11.00" fill="#c8c8c8"/>
<rect x="142.40" y="467.00" width="12.2" height="4.00" fill="#c8c8c8"/>
<rect x="161.10" y="454.00" width="12.2" height="17.00" fill="#c8c8c8"/>
<rect x="179.90" y="444.60" width="12.2" height="26.40" fill="#c8c8c8"/>
<rect x="198.70" y="467.00" width="12.2" height="4.00" fill="#c8c8c8"/>
<rect x="67.70" y="417.6" width="12.2" height="53.40" fill="#c8c8c8"/>
<rect x="67.70" y="391.4" width="12.2" height="15.60" fill="#c8c8c8"/>
<line x1="73.50" y1="391.40" x2="73.50" y2="355.40" stroke="#111" stroke-width="1.2" />
<line x1="70.30" y1="355.50" x2="77.30" y2="355.50" stroke="#111" stroke-width="1.2" />
<text x="71.80" y="356.44" font-size="12" text-anchor="middle" fill="#1a1a1a">*</text>
<text x="75.80" y="356.44" font-size="12" text-anchor="middle" fill="#1a1a1a">*</text>
<line x1="45.80" y1="460.40" x2="215.60" y2="460.40" stroke="#111" stroke-width="1.1" stroke-dasharray="3,2"/>
<line x1="55.50" y1="434.60" x2="55.50" y2="423.00" stroke="#111" stroke-width="1.2" />
<line x1="51.50" y1="423.50" x2="58.50" y2="423.50" stroke="#111" stroke-width="1.2" />
<line x1="92.50" y1="459.00" x2="92.50" y2="455.40" stroke="#111" stroke-width="1.2" />
<line x1="89.00" y1="455.50" x2="96.00" y2="455.50" stroke="#111" stroke-width="1.2" />
<line x1="111.50" y1="462.50" x2="111.50" y2="458.40" stroke="#111" stroke-width="1.2" />
<line x1="107.50" y1="458.50" x2="114.50" y2="458.50" stroke="#111" stroke-width="1.2" />
<line x1="129.50" y1="460.00" x2="129.50" y2="453.40" stroke="#111" stroke-width="1.2" />
<line x1="126.30" y1="453.50" x2="133.30" y2="453.50" stroke="#111" stroke-width="1.2" />
<line x1="148.50" y1="467.00" x2="148.50" y2="466.00" stroke="#111" stroke-width="1.2" />
<line x1="145.00" y1="466.50" x2="152.00" y2="466.50" stroke="#111" stroke-width="1.2" />
<line x1="167.50" y1="454.00" x2="167.50" y2="441.40" stroke="#111" stroke-width="1.2" />
<line x1="163.70" y1="441.50" x2="170.70" y2="441.50" stroke="#111" stroke-width="1.2" />
<line x1="186.50" y1="444.60" x2="186.50" y2="440.40" stroke="#111" stroke-width="1.2" />
<line x1="182.50" y1="440.50" x2="189.50" y2="440.50" stroke="#111" stroke-width="1.2" />
<line x1="204.50" y1="467.00" x2="204.50" y2="465.00" stroke="#111" stroke-width="1.2" />
<line x1="201.30" y1="465.50" x2="208.30" y2="465.50" stroke="#111" stroke-width="1.2" />
<line x1="45.30" y1="471.50" x2="215.60" y2="471.50" stroke="#111" stroke-width="1.5" />
<text x="54.50" y="421.24" font-size="12" text-anchor="middle" fill="#1a1a1a">*</text>
<text x="144.70" y="461.74" font-size="12" text-anchor="middle" fill="#1a1a1a">*</text>
<text x="148.70" y="461.74" font-size="12" text-anchor="middle" fill="#1a1a1a">*</text>
<text x="186.50" y="440.74" font-size="12" text-anchor="middle" fill="#1a1a1a">*</text>
<text x="204.50" y="461.74" font-size="12" text-anchor="middle" fill="#1a1a1a">*</text>
<text transform="translate(56.20,483.5) rotate(-43)" x="0" y="0" font-size="11" font-style="italic" text-anchor="end" fill="#1a1a1a">Ccl17</text>
<text transform="translate(75.00,483.5) rotate(-43)" x="0" y="0" font-size="11" font-style="italic" text-anchor="end" fill="#1a1a1a">Il17</text>
<text transform="translate(93.70,483.5) rotate(-43)" x="0" y="0" font-size="11" font-style="italic" text-anchor="end" fill="#1a1a1a">Ccl2</text>
<text transform="translate(112.20,483.5) rotate(-43)" x="0" y="0" font-size="11" font-style="italic" text-anchor="end" fill="#1a1a1a">Ifnγ</text>
<text transform="translate(131.00,483.5) rotate(-43)" x="0" y="0" font-size="11" font-style="italic" text-anchor="end" fill="#1a1a1a">Tnfα</text>
<text transform="translate(149.70,483.5) rotate(-43)" x="0" y="0" font-size="11" font-style="italic" text-anchor="end" fill="#1a1a1a">Il10</text>
<text transform="translate(168.40,483.5) rotate(-43)" x="0" y="0" font-size="11" font-style="italic" text-anchor="end" fill="#1a1a1a">Il6</text>
<text transform="translate(187.20,483.5) rotate(-43)" x="0" y="0" font-size="11" font-style="italic" text-anchor="end" fill="#1a1a1a">Il1</text>
<text transform="translate(209.50,481.0) rotate(-43)" x="0" y="0" font-size="11" font-style="italic" text-anchor="end" fill="#1a1a1a">Adipoq</text>
<text x="232.60" y="356.00" font-size="15.3" text-anchor="start" font-weight="bold" font-style="normal" fill="#1a1a1a" >f</text>
<line x1="267.50" y1="470.00" x2="267.50" y2="360.38" stroke="#111" stroke-width="1.2" />
<line x1="262.80" y1="470.50" x2="267.00" y2="470.50" stroke="#111" stroke-width="1.2" />
<text x="263.00" y="472.82" font-size="9.4" text-anchor="end" font-weight="normal" font-style="normal" fill="#1a1a1a" >5</text>
<line x1="262.80" y1="451.50" x2="267.00" y2="451.50" stroke="#111" stroke-width="1.2" />
<text x="263.00" y="454.65" font-size="9.4" text-anchor="end" font-weight="normal" font-style="normal" fill="#1a1a1a" >6</text>
<line x1="262.80" y1="433.50" x2="267.00" y2="433.50" stroke="#111" stroke-width="1.2" />
<text x="263.00" y="436.48" font-size="9.4" text-anchor="end" font-weight="normal" font-style="normal" fill="#1a1a1a" >7</text>
<line x1="262.80" y1="415.50" x2="267.00" y2="415.50" stroke="#111" stroke-width="1.2" />
<text x="263.00" y="418.31" font-size="9.4" text-anchor="end" font-weight="normal" font-style="normal" fill="#1a1a1a" >8</text>
<line x1="262.80" y1="397.50" x2="267.00" y2="397.50" stroke="#111" stroke-width="1.2" />
<text x="263.00" y="400.14" font-size="9.4" text-anchor="end" font-weight="normal" font-style="normal" fill="#1a1a1a" >9</text>
<line x1="262.80" y1="379.50" x2="267.00" y2="379.50" stroke="#111" stroke-width="1.2" />
<text x="263.00" y="381.97" font-size="9.4" text-anchor="end" font-weight="normal" font-style="normal" fill="#1a1a1a" >10</text>
<line x1="262.80" y1="360.50" x2="267.00" y2="360.50" stroke="#111" stroke-width="1.2" />
<text x="263.00" y="363.80" font-size="9.4" text-anchor="end" font-weight="normal" font-style="normal" fill="#1a1a1a" >11</text>
<line x1="266.40" y1="470.50" x2="368.00" y2="470.50" stroke="#111" stroke-width="1.2" />
<line x1="292.50" y1="470.00" x2="292.50" y2="474.20" stroke="#111" stroke-width="1.2" />
<line x1="343.50" y1="470.00" x2="343.50" y2="474.20" stroke="#111" stroke-width="1.2" />
<text transform="translate(248.78,412.35) rotate(-90)" x="0" y="0" font-size="11.2" text-anchor="middle" textLength="91.1" lengthAdjust="spacingAndGlyphs" fill="#1a1a1a" >Glucose (mmol/l)</text>
<text x="289.60" y="484.20" font-size="10.8" text-anchor="middle" font-weight="normal" font-style="normal" fill="#1a1a1a" >WT</text>
<text x="326.00" y="484.20" font-size="10.8" text-anchor="start" font-weight="normal" font-style="italic" fill="#1a1a1a" >Hif1α<tspan font-size="6.5" dy="-4.2" font-style="normal" fill="#555">−/−</tspan></text>
<line x1="291.60" y1="372.50" x2="340.60" y2="372.50" stroke="#111" stroke-width="1.2" />
<line x1="291.50" y1="369.20" x2="291.50" y2="375.60" stroke="#111" stroke-width="1.2" />
<line x1="340.50" y1="369.20" x2="340.50" y2="375.60" stroke="#111" stroke-width="1.2" />
<text x="318.20" y="372.24" font-size="12" text-anchor="middle" fill="#1a1a1a">*</text>
<circle cx="292.00" cy="408.40" r="2.7" fill="#fff" stroke="#111" stroke-width="1.2"/>
<circle cx="283.60" cy="424.60" r="2.7" fill="#fff" stroke="#111" stroke-width="1.2"/>
<circle cx="300.40" cy="421.20" r="2.7" fill="#fff" stroke="#111" stroke-width="1.2"/>
<circle cx="292.00" cy="426.00" r="2.7" fill="#fff" stroke="#111" stroke-width="1.2"/>
<circle cx="300.40" cy="439.40" r="2.7" fill="#fff" stroke="#111" stroke-width="1.2"/>
<circle cx="292.00" cy="446.40" r="2.7" fill="#fff" stroke="#111" stroke-width="1.2"/>
<line x1="275.40" y1="427.50" x2="308.60" y2="427.50" stroke="#111" stroke-width="1.2" />
<line x1="292.50" y1="422.60" x2="292.50" y2="433.40" stroke="#111" stroke-width="1.2" />
<line x1="283.80" y1="422.50" x2="300.20" y2="422.50" stroke="#111" stroke-width="1.2" />
<line x1="283.80" y1="433.50" x2="300.20" y2="433.50" stroke="#111" stroke-width="1.2" />
<rect x="348.30" y="378.70" width="5.4" height="5.4" fill="#111"/>
<rect x="340.30" y="381.90" width="5.4" height="5.4" fill="#111"/>
<rect x="331.70" y="390.90" width="5.4" height="5.4" fill="#111"/>
<rect x="340.30" y="398.30" width="5.4" height="5.4" fill="#111"/>
<rect x="348.30" y="418.50" width="5.4" height="5.4" fill="#111"/>
<rect x="340.30" y="423.90" width="5.4" height="5.4" fill="#111"/>
<line x1="326.00" y1="401.50" x2="360.00" y2="401.50" stroke="#111" stroke-width="1.2" />
<line x1="343.50" y1="393.60" x2="343.50" y2="409.00" stroke="#111" stroke-width="1.2" />
<line x1="334.60" y1="393.50" x2="351.40" y2="393.50" stroke="#111" stroke-width="1.2" />
<line x1="334.60" y1="409.50" x2="351.40" y2="409.50" stroke="#111" stroke-width="1.2" />
<text x="385.40" y="360.20" font-size="15.3" text-anchor="start" font-weight="bold" font-style="normal" fill="#1a1a1a" >g</text>
<line x1="420.50" y1="470.00" x2="420.50" y2="360.80" stroke="#111" stroke-width="1.2" />
<line x1="416.30" y1="470.50" x2="420.50" y2="470.50" stroke="#111" stroke-width="1.2" />
<text x="416.70" y="472.82" font-size="9.4" text-anchor="end" font-weight="normal" font-style="normal" fill="#1a1a1a" >0</text>
<line x1="416.30" y1="433.50" x2="420.50" y2="433.50" stroke="#111" stroke-width="1.2" />
<text x="416.70" y="436.62" font-size="9.4" text-anchor="end" font-weight="normal" font-style="normal" fill="#1a1a1a" >5</text>
<line x1="416.30" y1="397.50" x2="420.50" y2="397.50" stroke="#111" stroke-width="1.2" />
<text x="416.70" y="400.42" font-size="9.4" text-anchor="end" font-weight="normal" font-style="normal" fill="#1a1a1a" >10</text>
<line x1="416.30" y1="361.50" x2="420.50" y2="361.50" stroke="#111" stroke-width="1.2" />
<text x="416.70" y="364.22" font-size="9.4" text-anchor="end" font-weight="normal" font-style="normal" fill="#1a1a1a" >15</text>
<line x1="419.90" y1="470.50" x2="519.20" y2="470.50" stroke="#111" stroke-width="1.2" />
<line x1="445.50" y1="470.00" x2="445.50" y2="474.20" stroke="#111" stroke-width="1.2" />
<line x1="494.50" y1="470.00" x2="494.50" y2="474.20" stroke="#111" stroke-width="1.2" />
<text transform="translate(402.18,411.20) rotate(-90)" x="0" y="0" font-size="11.2" text-anchor="middle" textLength="69.8" lengthAdjust="spacingAndGlyphs" fill="#1a1a1a" >Insulin (ng/ml)</text>
<text x="448.50" y="486.00" font-size="10.8" text-anchor="middle" font-weight="normal" font-style="normal" fill="#1a1a1a" >WT</text>
<text x="484.40" y="486.00" font-size="10.8" text-anchor="start" font-weight="normal" font-style="italic" fill="#1a1a1a" >Hif1α<tspan font-size="6.5" dy="-4.2" font-style="normal" fill="#555">−/−</tspan></text>
<circle cx="436.60" cy="388.00" r="2.7" fill="#fff" stroke="#111" stroke-width="1.2"/>
<circle cx="445.00" cy="393.00" r="2.7" fill="#fff" stroke="#111" stroke-width="1.2"/>
<circle cx="445.00" cy="411.00" r="2.7" fill="#fff" stroke="#111" stroke-width="1.2"/>
<circle cx="453.00" cy="410.60" r="2.7" fill="#fff" stroke="#111" stroke-width="1.2"/>
<circle cx="445.00" cy="422.40" r="2.7" fill="#fff" stroke="#111" stroke-width="1.2"/>
<circle cx="445.00" cy="431.60" r="2.7" fill="#fff" stroke="#111" stroke-width="1.2"/>
<line x1="428.50" y1="409.50" x2="461.50" y2="409.50" stroke="#111" stroke-width="1.2" />
<line x1="445.50" y1="402.60" x2="445.50" y2="416.40" stroke="#111" stroke-width="1.2" />
<line x1="437.00" y1="402.50" x2="453.00" y2="402.50" stroke="#111" stroke-width="1.2" />
<line x1="437.00" y1="416.50" x2="453.00" y2="416.50" stroke="#111" stroke-width="1.2" />
<rect x="491.90" y="368.30" width="5.4" height="5.4" fill="#111"/>
<rect x="491.90" y="385.90" width="5.4" height="5.4" fill="#111"/>
<rect x="483.70" y="400.30" width="5.4" height="5.4" fill="#111"/>
<rect x="496.30" y="399.90" width="5.4" height="5.4" fill="#111"/>
<rect x="500.30" y="400.30" width="5.4" height="5.4" fill="#111"/>
<rect x="491.70" y="406.30" width="5.4" height="5.4" fill="#111"/>
<line x1="477.90" y1="396.50" x2="510.90" y2="396.50" stroke="#111" stroke-width="1.2" />
<line x1="494.50" y1="390.00" x2="494.50" y2="401.00" stroke="#111" stroke-width="1.2" />
<line x1="486.70" y1="390.50" x2="502.10" y2="390.50" stroke="#111" stroke-width="1.2" />
<line x1="486.70" y1="401.50" x2="502.10" y2="401.50" stroke="#111" stroke-width="1.2" />
<text x="534.40" y="356.40" font-size="15.3" text-anchor="start" font-weight="bold" font-style="normal" fill="#1a1a1a" >h</text>
<line x1="571.50" y1="469.30" x2="571.50" y2="359.82" stroke="#333" stroke-width="1.2" />
<line x1="566.80" y1="469.50" x2="571.00" y2="469.50" stroke="#333" stroke-width="1.2" />
<text x="567.40" y="472.12" font-size="9.4" text-anchor="end" font-weight="normal" font-style="normal" fill="#1a1a1a" >0</text>
<line x1="566.80" y1="442.50" x2="571.00" y2="442.50" stroke="#333" stroke-width="1.2" />
<text x="567.40" y="444.90" font-size="9.4" text-anchor="end" font-weight="normal" font-style="normal" fill="#1a1a1a" >10</text>
<line x1="566.80" y1="414.50" x2="571.00" y2="414.50" stroke="#333" stroke-width="1.2" />
<text x="567.40" y="417.68" font-size="9.4" text-anchor="end" font-weight="normal" font-style="normal" fill="#1a1a1a" >20</text>
<line x1="566.80" y1="387.50" x2="571.00" y2="387.50" stroke="#333" stroke-width="1.2" />
<text x="567.40" y="390.46" font-size="9.4" text-anchor="end" font-weight="normal" font-style="normal" fill="#1a1a1a" >30</text>
<line x1="566.80" y1="360.50" x2="571.00" y2="360.50" stroke="#333" stroke-width="1.2" />
<text x="567.40" y="363.24" font-size="9.4" text-anchor="end" font-weight="normal" font-style="normal" fill="#1a1a1a" >40</text>
<line x1="570.40" y1="469.50" x2="671.20" y2="469.50" stroke="#333" stroke-width="1.2" />
<line x1="596.50" y1="469.30" x2="596.50" y2="471.80" stroke="#333" stroke-width="1.2" />
<line x1="648.50" y1="469.30" x2="648.50" y2="471.80" stroke="#333" stroke-width="1.2" />
<text transform="translate(553.38,413.20) rotate(-90)" x="0" y="0" font-size="11.2" text-anchor="middle" textLength="105.4" lengthAdjust="spacingAndGlyphs" fill="#1a1a1a" >Adiponectin (ng/ml)</text>
<text x="596.80" y="484.60" font-size="10.8" text-anchor="middle" font-weight="normal" font-style="normal" fill="#1a1a1a" >WT</text>
<text x="633.00" y="484.60" font-size="10.8" text-anchor="start" font-weight="normal" font-style="italic" fill="#1a1a1a" >Hif1α<tspan font-size="6.5" dy="-4.2" font-style="normal" fill="#555">−/−</tspan></text>
<line x1="595.40" y1="370.50" x2="645.00" y2="370.50" stroke="#111" stroke-width="1.2" />
<line x1="595.50" y1="367.40" x2="595.50" y2="373.80" stroke="#111" stroke-width="1.2" />
<line x1="645.50" y1="367.40" x2="645.50" y2="373.80" stroke="#111" stroke-width="1.2" />
<text x="621.00" y="369.74" font-size="12" text-anchor="middle" fill="#1a1a1a">*</text>
<circle cx="596.00" cy="384.00" r="2.7" fill="#fff" stroke="#111" stroke-width="1.2"/>
<circle cx="604.00" cy="381.40" r="2.7" fill="#fff" stroke="#111" stroke-width="1.2"/>
<circle cx="596.00" cy="395.00" r="2.7" fill="#fff" stroke="#111" stroke-width="1.2"/>
<circle cx="588.00" cy="405.00" r="2.7" fill="#fff" stroke="#111" stroke-width="1.2"/>
<circle cx="596.00" cy="409.60" r="2.7" fill="#fff" stroke="#111" stroke-width="1.2"/>
<circle cx="604.00" cy="409.00" r="2.7" fill="#fff" stroke="#111" stroke-width="1.2"/>
<line x1="579.50" y1="397.50" x2="612.50" y2="397.50" stroke="#111" stroke-width="1.2" />
<line x1="596.50" y1="392.40" x2="596.50" y2="402.40" stroke="#111" stroke-width="1.2" />
<line x1="587.80" y1="392.50" x2="604.20" y2="392.50" stroke="#111" stroke-width="1.2" />
<line x1="587.80" y1="402.50" x2="604.20" y2="402.50" stroke="#111" stroke-width="1.2" />
<rect x="651.80" y="400.10" width="5.4" height="5.4" fill="#111"/>
<rect x="643.50" y="406.50" width="5.4" height="5.4" fill="#111"/>
<rect x="635.30" y="417.40" width="5.4" height="5.4" fill="#111"/>
<rect x="643.50" y="419.80" width="5.4" height="5.4" fill="#111"/>
<rect x="651.80" y="427.40" width="5.4" height="5.4" fill="#111"/>
<rect x="643.50" y="433.90" width="5.4" height="5.4" fill="#111"/>
<line x1="629.60" y1="420.50" x2="662.80" y2="420.50" stroke="#111" stroke-width="1.2" />
<line x1="646.50" y1="415.20" x2="646.50" y2="425.60" stroke="#111" stroke-width="1.2" />
<line x1="637.50" y1="415.50" x2="654.90" y2="415.50" stroke="#111" stroke-width="1.2" />
<line x1="637.50" y1="425.50" x2="654.90" y2="425.50" stroke="#111" stroke-width="1.2" />
</svg>
</body></html>
